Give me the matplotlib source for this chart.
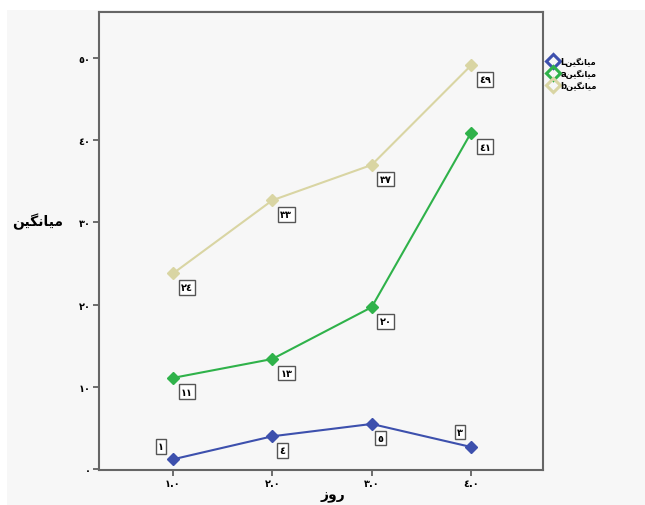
import matplotlib
matplotlib.use("Agg")
import matplotlib.pyplot as plt
from matplotlib.patches import Rectangle

# ---- data ----
days = [1, 2, 3, 4]
x_tick_labels = ["\u0661.\u0660", "\u0662.\u0660", "\u0663.\u0660", "\u0664.\u0660"]
y_ticks = [0, 10, 20, 30, 40, 50]
y_tick_labels = ["\u0660", "\u0661\u0660", "\u0662\u0660", "\u0663\u0660", "\u0664\u0660", "\u0665\u0660"]

mean_L = [1.2, 4.0, 5.5, 2.7]
mean_a = [11.1, 13.4, 19.7, 40.9]
mean_b = [23.8, 32.7, 37.0, 49.1]

labels_L = ["\u0661", "\u0664", "\u0665", "\u0663"]
labels_a = ["\u0661\u0661", "\u0661\u0663", "\u0662\u0660", "\u0664\u0661"]
labels_b = ["\u0662\u0664", "\u0663\u0663", "\u0663\u0667", "\u0664\u0669"]

# pre-shaped Persian words (visual order)
word_mean = "\uFEE6\uFBFF\uFB95\uFEE7\uFE8E\uFBFF\uFEE3"   # میانگین
word_day = "\uFEAF\uFEED\uFEAD"                              # روز
legend_names = ["L" + word_mean, "a" + word_mean, "b" + word_mean]

col_L = "#3d50ad"
col_a = "#2fb24a"
col_b = "#d9d5a3"
bg = "#f7f7f7"

W, H = 645, 506
fig = plt.figure(figsize=(W / 100, H / 100), dpi=100, facecolor="white")
fig.patches.append(Rectangle((7 / W, 0), 1, (H - 11) / H, transform=fig.transFigure,
                             facecolor=bg, edgecolor="none", zorder=-10))

ax = fig.add_axes([99 / W, (H - 471) / H, 444 / W, 458 / H])
ax.set_facecolor(bg)

series = [(mean_L, labels_L, col_L, legend_names[0]),
          (mean_a, labels_a, col_a, legend_names[1]),
          (mean_b, labels_b, col_b, legend_names[2])]

for vals, labs, col, name in series:
    ax.plot(days, vals, color=col, lw=1.5, marker="D", ms=6, mfc=col, mec=col, zorder=3)

# offsets (pixels) of value boxes
offs_L = [(-12, 13), (10, -14), (9, -14), (-11, 15)]
box = dict(boxstyle="square,pad=0.25", fc="white", ec="#555555", lw=1.0)
for vals, labs, offs in [(mean_L, labels_L, offs_L),
                         (mean_a, labels_a, [(14, -14)] * 4),
                         (mean_b, labels_b, [(14, -14)] * 4)]:
    for xv, yv, lab, off in zip(days, vals, labs, offs):
        ax.annotate(lab, (xv, yv), xytext=off, textcoords="offset pixels",
                    ha="center", va="center", fontsize=7, fontweight="bold",
                    bbox=box, zorder=5)

ax.set_xlim(0.255, 4.725)
ax.set_ylim(-0.1, 55.6)
ax.set_xticks(days)
ax.set_xticklabels(x_tick_labels, fontsize=7, fontweight="bold")
ax.set_yticks(y_ticks)
ax.set_yticklabels(y_tick_labels, fontsize=7, fontweight="bold")
ax.tick_params(direction="out", length=4, width=1.2, color="#555555", pad=2)

for s in ax.spines.values():
    s.set_color("#666666")
    s.set_linewidth(1.5)

fig.text(333 / W, 1 - 496 / H, word_day, fontsize=10, fontweight="bold",
         ha="center", va="center")
fig.text(38 / W, 1 - 222 / H, word_mean, fontsize=10, fontweight="bold",
         ha="center", va="center")

# legend (hollow diamonds)
handles = [plt.Line2D([], [], ls="none", marker="D", ms=7, mfc="none", mec=c, mew=2.2)
           for c in (col_L, col_a, col_b)]
fig.legend(handles, legend_names, loc="upper left", bbox_to_anchor=(541 / W, 1 - 50 / H),
           frameon=False, handlelength=1.0, handletextpad=0.4,
           labelspacing=0.35, prop={"weight": "bold", "size": 6})

fig.savefig("out.png", dpi=100, facecolor=fig.get_facecolor())
